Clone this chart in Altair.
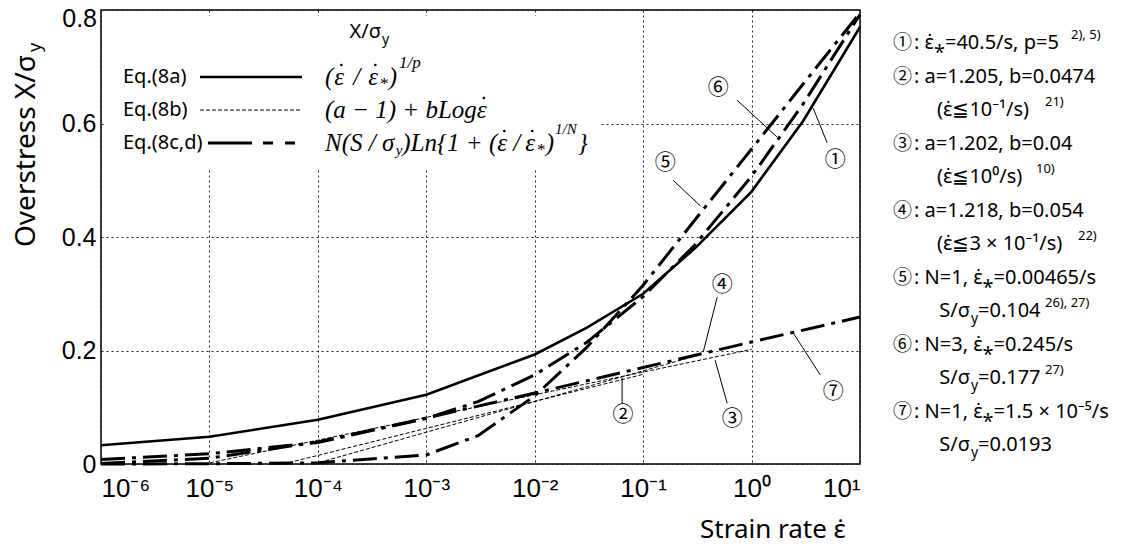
import altair as alt
import pandas as pd

# ---------------- layout ----------------
W, H = 759, 454
LEFT, TOP = 101, 10
TOTAL_W, TOTAL_H = 1127, 546

# ---------------- data ----------------
# (1) Eq.(8a) solid
x_c1 = [1e-6, 1e-5, 1e-4, 1e-3, 1e-2, 3e-2, 1e-1, 3e-1, 1, 3, 10]
y_c1 = [0.033, 0.048, 0.078, 0.122, 0.193, 0.240, 0.300, 0.380, 0.480, 0.605, 0.770]
# (2)-(4) Eq.(8b) thin dashed
x_c2 = [4.8e-5, 1e-1]
y_c2 = [0.0, 0.158]
x_c3 = [8.9e-6, 1.0]
y_c3 = [0.0, 0.202]
x_c4 = [9.2e-5, 3e-1]
y_c4 = [0.0, 0.190]
# (5)-(7) Eq.(8c,d) dash-dot
x_c56 = [1e-6, 1e-5, 1e-4, 1e-3, 3e-3, 1e-2, 3e-2, 1e-1, 3e-1, 1, 3, 10]
y_c5 = [0.000, 0.0005, 0.002, 0.016, 0.050, 0.120, 0.205, 0.315, 0.430, 0.555, 0.670, 0.795]
y_c6 = [0.008, 0.018, 0.038, 0.080, 0.110, 0.157, 0.214, 0.295, 0.386, 0.507, 0.635, 0.792]
x_c7 = [1e-6, 1e-5, 1e-4, 1e-3, 1e-2, 1e-1, 1, 10]
y_c7 = [0.001, 0.010, 0.039, 0.081, 0.125, 0.170, 0.215, 0.259]

x_ticks = [1e-6, 1e-5, 1e-4, 1e-3, 1e-2, 1e-1, 1, 10]
x_tick_exp = [-6, -5, -4, -3, -2, -1, 0, 1]
x_tick_labels = ["10⁻⁶", "10⁻⁵", "10⁻⁴", "10⁻³", "10⁻²", "10⁻¹", "10⁰", "10¹"]
y_ticks = [0, 0.2, 0.4, 0.6, 0.8]
y_tick_labels = ["0", "0.2", "0.4", "0.6", "0.8"]

# in-plot circled labels and leader lines (data coordinates)
ann_text = ["①", "②", "③", "④", "⑤", "⑥", "⑦"]
ann_x = [5.9, 0.0653, 0.662, 0.536, 0.160, 0.492, 5.66]
ann_y = [0.536, 0.086, 0.079, 0.315, 0.530, 0.663, 0.127]
lead_x1 = [4.98, 0.064, 0.596, 0.482, 0.189, 0.736, 4.30]
lead_y1 = [0.566, 0.107, 0.107, 0.294, 0.500, 0.641, 0.157]
lead_x2 = [3.70, 0.064, 0.461, 0.358, 0.336, 1.72, 2.42]
lead_y2 = [0.627, 0.152, 0.183, 0.197, 0.455, 0.576, 0.231]

# ---------------- tables ----------------
rows = []
def add(name, style, xs, ys):
    for a, b in zip(xs, ys):
        rows.append({"series": name, "style": style, "rate": a, "val": b})

add("1", "solid", x_c1, y_c1)
add("2", "thin", x_c2, y_c2)
add("3", "thin", x_c3, y_c3)
add("4", "thin", x_c4, y_c4)
add("5", "dd", x_c56, y_c5)
add("6", "dd", x_c56, y_c6)
add("7", "dd", x_c7, y_c7)
curves = pd.DataFrame(rows)

ann = pd.DataFrame({"t": ann_text, "x": ann_x, "y": ann_y})
leads = pd.DataFrame({"x1": lead_x1, "y1": lead_y1, "x2": lead_x2, "y2": lead_y2})

def nested(vals, labels, var="datum.value", skip_last=False):
    expr = "'" + ("" if skip_last else labels[-1]) + "'"
    for i in range(len(vals) - 2, -1, -1):
        thr = (vals[i] + vals[i + 1]) / 2
        expr = f"{var} < {thr} ? '{labels[i]}' : " + expr
    return expr

xlab = nested(x_tick_exp, x_tick_labels, var="(log(datum.value)/LN10)")
ylab = nested(y_ticks, y_tick_labels, skip_last=True)

xscale = alt.Scale(type="log", domain=[1e-6, 10])
yscale = alt.Scale(domain=[0, 0.8])

GRID = dict(grid=True, gridColor="#222", gridDash=[2, 3], gridWidth=1, domain=False, ticks=False)

x_axis = alt.Axis(values=x_ticks, labelExpr=xlab, labelFont="Liberation Sans", labelFontSize=26,
                  labelColor="black", labelPadding=11, title=None, **GRID)
y_axis = alt.Axis(values=y_ticks, labelExpr=ylab, labelFont="Liberation Sans", labelFontSize=25,
                  labelColor="black", labelPadding=5, title=None, **GRID)

base = alt.Chart(curves)
solid = base.transform_filter("datum.style == 'solid'").mark_line(
    color="black", strokeWidth=2.6).encode(
    x=alt.X("rate:Q", scale=xscale, axis=x_axis),
    y=alt.Y("val:Q", scale=yscale, axis=y_axis),
    detail="series:N")
thin = base.transform_filter("datum.style == 'thin'").mark_line(
    color="black", strokeWidth=1, strokeDash=[4, 2]).encode(
    x=alt.X("rate:Q", scale=xscale), y=alt.Y("val:Q", scale=yscale), detail="series:N")
dd = base.transform_filter("datum.style == 'dd'").mark_line(
    color="black", strokeWidth=3, strokeDash=[24, 7, 4, 7]).encode(
    x=alt.X("rate:Q", scale=xscale), y=alt.Y("val:Q", scale=yscale), detail="series:N")
leaders = alt.Chart(leads).mark_rule(color="black", strokeWidth=1).encode(
    x=alt.X("x1:Q", scale=xscale), y=alt.Y("y1:Q", scale=yscale), x2="x2:Q", y2="y2:Q")
circles = alt.Chart(ann).mark_text(font="Noto Sans CJK JP", fontSize=21, color="black",
                                   baseline="middle", align="center").encode(
    x=alt.X("x:Q", scale=xscale), y=alt.Y("y:Q", scale=yscale), text="t:N")

inner = alt.layer(solid, thin, dd, leaders, circles)

# ---------------- pixel-positioned annotations ----------------
def pix(items, **mk):
    df = pd.DataFrame(items, columns=["ax", "ay", "text"])
    df["px"] = df["ax"] - LEFT
    df["py"] = df["ay"] - TOP
    props = dict(baseline="middle", color="black", align="left")
    props.update(mk)
    return alt.Chart(df).mark_text(**props).encode(
        x=alt.X("px:Q", scale=None, axis=None),
        y=alt.Y("py:Q", scale=None, axis=None),
        text="text:N")

def prule(x1, x2, y, **mk):
    return alt.Chart(pd.DataFrame({"a": [0]})).mark_rule(color="black", **mk).encode(
        x=alt.value(x1 - LEFT), x2=alt.value(x2 - LEFT), y=alt.value(y - TOP))

legend_box = alt.Chart(pd.DataFrame({"a": [0]})).mark_rect(color="white").encode(
    x=alt.value(3), x2=alt.value(498), y=alt.value(6), y2=alt.value(158))

E = "ε\u0307"
R = [43 + 33.5 * k for k in range(13)]
SANS = "Noto Sans"

top_label = pix([(97, 19, y_tick_labels[-1])], font="Liberation Sans", fontSize=25, align="right")

list_circ = pix([(893, R[0], "①"), (893, R[1], "②"), (893, R[3], "③"), (893, R[5], "④"),
                 (893, R[7], "⑤"), (893, R[9], "⑥"), (893, R[11], "⑦")],
                font="Noto Sans CJK JP", fontSize=19)
list_main = pix([
    (914, R[0], f": {E}⁎=40.5/s, p=5"),
    (914, R[1], ": a=1.205, b=0.0474"),
    (937, R[2], f"({E}≦10⁻¹/s)"),
    (914, R[3], ": a=1.202, b=0.04"),
    (937, R[4], f"({E}≦10⁰/s)"),
    (914, R[5], ": a=1.218, b=0.054"),
    (937, R[6], f"({E}≦3 × 10⁻¹/s)"),
    (914, R[7], f": N=1, {E}⁎=0.00465/s"),
    (978, R[8], "=0.104"),
    (914, R[9], f": N=3, {E}⁎=0.245/s"),
    (978, R[10], "=0.177"),
    (914, R[11], f": N=1, {E}⁎=1.5 × 10⁻⁵/s"),
    (978, R[12], "=0.0193"),
], font=SANS, fontSize=20)
leg_lab = pix([(123, 77, "Eq.(8a)"), (123, 110, "Eq.(8b)"), (123, 143, "Eq.(8c,d)")],
              font=SANS, fontSize=20)
list_sr = pix([(970, R[8], "S/σ"), (970, R[10], "S/σ"), (970, R[12], "S/σ"), (381, 32, "X/σ")],
              font=SANS, fontSize=20, align="right")
list_sub = pix([(971, R[8] + 8, "y"), (971, R[10] + 8, "y"), (971, R[12] + 8, "y"), (382, 40, "y")],
               font=SANS, fontSize=14)
list_sup = pix([(1071, R[0] - 8, "2), 5)"), (1045, R[2] - 8, "21)"), (1036, R[4] - 8, "10)"),
                (1078, R[6] - 8, "22)"), (1045, R[8] - 8, "26), 27)"), (1045, R[10] - 8, "27)")],
               font=SANS, fontSize=13)

# legend formulas laid out piece by piece (Times-italic metrics)
WID = {'(': .333, ')': .333, '/': .278, ' ': .25, 'a': .5, '−': .675, '1': .5,
       '+': .675, 'b': .5, 'L': .556, 'o': .5, 'g': .5, 'N': .667, 'S': .5, 'n': .5, '{': .4,
       '}': .4, 'y': .444, 'p': .5, 'ε': .44, 'σ': .55, '*': .5}
# (text, size, dy, gap before in px); "ε" pieces get a dot above
formulas = [
    (325, 77, [("(", 25, 0, 0), ("ε", 25, 0, 1), ("/", 25, 0, 8), ("ε", 25, 0, 8),
               ("*", 17, 7, 0), (")", 25, 0, 1), ("1/p", 17, -14, 2)]),
    (325, 110, [("(a − 1) + bLog", 25, 0, 0), ("ε", 25, 0, 0)]),
    (325, 143, [("N(S / σ", 25, 0, 0), ("y", 15, 7, 0), (")Ln{1 + (", 25, 0, 0),
                ("ε", 25, 0, 0), ("/", 25, 0, 5), ("ε", 25, 0, 5), ("*", 17, 7, 0),
                (")", 25, 0, 1), ("1/N", 15, -14, 1), ("}", 25, 0, 1)]),
]
pieces = {}
dots = []
for x0, y0, segs in formulas:
    x = x0
    for t, s, dy, gap in segs:
        x += gap
        w = sum(WID.get(c, .5) for c in t) * s
        pieces.setdefault(s, []).append((x, y0 + dy, t))
        if t == "ε":
            dots.append({"px": x + w * 0.64 - LEFT, "py": y0 - 12 - TOP})
        x += w
f_layers = [pix(v, font="Liberation Serif", fontStyle="italic", fontSize=k)
            for k, v in pieces.items()]
f_dots = alt.Chart(pd.DataFrame(dots)).mark_circle(color="black", opacity=1, size=7).encode(
    x=alt.X("px:Q", scale=None, axis=None), y=alt.Y("py:Q", scale=None, axis=None))

s1 = prule(200, 302, 77, strokeWidth=2.6)
s2 = prule(200, 302, 110, strokeWidth=1, strokeDash=[4, 2])
s3 = prule(208, 296, 143, strokeWidth=3, strokeDash=[44, 11, 10, 12, 10, 60])

# axis titles
ytitle = pix([(27, 247, "Overstress X/σ")], font=SANS, fontSize=28, angle=270)
ytitle_sub = pix([(36, 52, "y")], font=SANS, fontSize=18, angle=270)
xtitle = pix([(700, 530, f"Strain rate {E}")], font=SANS, fontSize=26)

chart = alt.layer(
    inner, legend_box, s1, s2, s3, top_label, list_circ, list_main, leg_lab, list_sr, list_sub,
    list_sup, *f_layers, f_dots, ytitle, ytitle_sub, xtitle
).resolve_scale(x="independent", y="independent").properties(
    width=W, height=H,
    padding={"left": LEFT, "top": TOP, "right": TOTAL_W - LEFT - W, "bottom": TOTAL_H - TOP - H},
    autosize=alt.AutoSizeParams(type="none"),
    background="white",
).configure_view(stroke="black", strokeWidth=1.5)

chart.save("out.html", embed_options={"renderer": "svg", "actions": False})
